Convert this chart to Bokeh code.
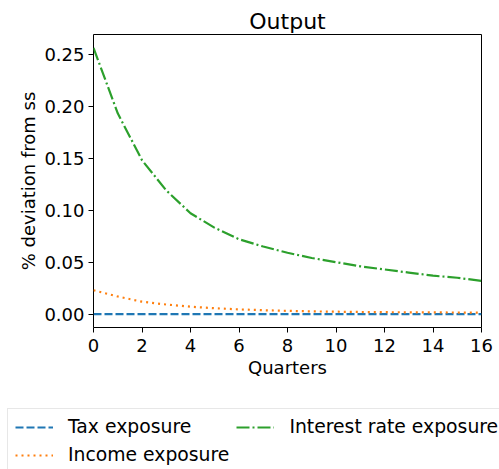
from bokeh.plotting import figure
from bokeh.models import Legend, LegendItem, Range1d, FixedTicker, NumeralTickFormatter, Title
from bokeh.embed import file_html
from bokeh.resources import INLINE

quarters = list(range(17))
tax_exposure = [0.0] * 17
income_exposure = [0.023, 0.017, 0.012, 0.0093, 0.0072, 0.0057, 0.0046, 0.0038, 0.0032,
                   0.0027, 0.0024, 0.0021, 0.0019, 0.0018, 0.0017, 0.0016, 0.0015]
interest_exposure = [0.256, 0.193, 0.148, 0.119, 0.097, 0.083, 0.072, 0.065, 0.059,
                     0.054, 0.050, 0.046, 0.043, 0.040, 0.037, 0.035, 0.032]
x_ticks = [0, 2, 4, 6, 8, 10, 12, 14, 16]
y_ticks = [0.0, 0.05, 0.10, 0.15, 0.20, 0.25]
labels = ["Tax exposure", "Income exposure", "Interest rate exposure"]
colors = ["#1f77b4", "#ff7f0e", "#2ca02c"]
dashes = ["8 3", "2 4", "13 3 2 3"]
series = [tax_exposure, income_exposure, interest_exposure]

FONT = "DejaVu Sans"
FS = "18px"

p = figure(width=499, height=398,
           output_backend="svg", toolbar_location=None,
           x_range=Range1d(0, 16), y_range=Range1d(-0.0128, 0.2688),
           min_border_left=93, min_border_right=18, min_border_top=34, min_border_bottom=71)
p.title = Title(text="Output", align="center", text_font=FONT, text_font_size="22px",
                text_font_style="normal", text_color="black", standoff=2)

p.xgrid.visible = False
p.ygrid.visible = False
p.outline_line_color = "black"
p.outline_line_width = 1

for ax in (p.xaxis[0], p.yaxis[0]):
    ax.axis_line_color = None
    ax.major_tick_line_color = "black"
    ax.major_tick_out = 5
    ax.major_tick_in = 0
    ax.minor_tick_line_color = None
    ax.major_label_text_font = FONT
    ax.major_label_text_font_size = FS
    ax.major_label_text_color = "black"
    ax.axis_label_text_font = FONT
    ax.axis_label_text_font_size = FS
    ax.axis_label_text_font_style = "normal"
    ax.axis_label_text_color = "black"

p.xaxis.ticker = FixedTicker(ticks=x_ticks)
p.yaxis.ticker = FixedTicker(ticks=y_ticks)
p.yaxis.formatter = NumeralTickFormatter(format="0.00")
p.xaxis.axis_label = "Quarters"
p.yaxis.axis_label = "% deviation from ss"
p.xaxis.axis_label_standoff = 2
p.yaxis.axis_label_standoff = 2
p.xaxis.major_label_standoff = 6
p.yaxis.major_label_standoff = 4

for ys, c, d in zip(series, colors, dashes):
    p.line(quarters, ys, line_color=c, line_width=2.2, line_dash=d)

# legend strip (same series drawn out of view; only the legend shows)
q = figure(width=499, height=71, output_backend="svg", toolbar_location=None,
           x_axis_type=None, y_axis_type=None,
           x_range=Range1d(0, 16), y_range=Range1d(10, 11),
           min_border=0, outline_line_color=None)
q.xgrid.visible = False
q.ygrid.visible = False
items = []
for ys, c, d, lab in zip(series, colors, dashes, labels):
    r = q.line(quarters, ys, line_color=c, line_width=2.2, line_dash=d)
    items.append(LegendItem(label=lab, renderers=[r]))

legend = Legend(items=items, nrows=2, orientation="vertical",
                location=(7, -4),
                label_text_font=FONT, label_text_font_size="18.8px", label_text_color="black",
                glyph_width=38, label_standoff=15, spacing=7,
                border_line_color="#d0d0d0", border_line_width=1,
                background_fill_alpha=1, padding=7, margin=0)
q.add_layout(legend, "center")

open("out.html", "w").write(file_html([p, q], INLINE))
